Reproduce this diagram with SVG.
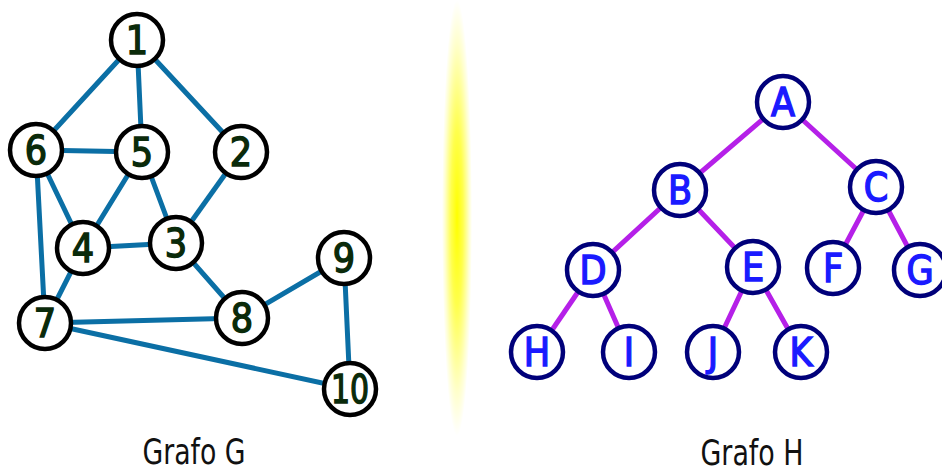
<svg xmlns="http://www.w3.org/2000/svg" width="942" height="473" viewBox="0 0 942 473">
<defs>
<radialGradient id="glow" cx="0.5" cy="0.5" r="0.5">
<stop offset="0" stop-color="#ffff00" stop-opacity="1"/>
<stop offset="0.4" stop-color="#ffff00" stop-opacity="0.7"/>
<stop offset="0.8" stop-color="#ffff00" stop-opacity="0.2"/>
<stop offset="1" stop-color="#ffff00" stop-opacity="0"/>
</radialGradient>
<style>
.eg{stroke:#0b6fa5;stroke-width:5;stroke-linecap:round}
.eh{stroke:#b520e8;stroke-width:5;stroke-linecap:round}
.ng circle{fill:#fff;stroke:#000;stroke-width:4.5}
.ng text{fill:#0a2a0a;stroke:#0a2a0a;stroke-width:1.4;font-family:"DejaVu Sans Condensed","DejaVu Sans",sans-serif;font-size:39px;text-anchor:middle}
.nh circle{fill:#fff;stroke:#00007a;stroke-width:4.5}
.nh text{fill:#1a1aff;stroke:#1a1aff;stroke-width:1.4;font-family:"DejaVu Sans Condensed","DejaVu Sans",sans-serif;font-size:39px;text-anchor:middle}
.lbl{fill:#111;font-family:"DejaVu Sans Condensed","DejaVu Sans",sans-serif;font-size:36px;text-anchor:middle}
</style>
</defs>
<rect width="942" height="473" fill="#fff"/>
<ellipse cx="457" cy="218" rx="15" ry="218" fill="url(#glow)"/>
<g id="connectors">
<line class="eg" x1="137" y1="40" x2="36" y2="150"/>
<line class="eg" x1="137" y1="40" x2="142" y2="152"/>
<line class="eg" x1="137" y1="40" x2="241" y2="152"/>
<line class="eg" x1="36" y1="150" x2="142" y2="152"/>
<line class="eg" x1="36" y1="150" x2="83" y2="248"/>
<line class="eg" x1="36" y1="150" x2="45" y2="323"/>
<line class="eg" x1="142" y1="152" x2="83" y2="248"/>
<line class="eg" x1="142" y1="152" x2="176" y2="243"/>
<line class="eg" x1="241" y1="152" x2="176" y2="243"/>
<line class="eg" x1="83" y1="248" x2="176" y2="243"/>
<line class="eg" x1="83" y1="248" x2="45" y2="323"/>
<line class="eg" x1="176" y1="243" x2="242" y2="318"/>
<line class="eg" x1="45" y1="323" x2="242" y2="318"/>
<line class="eg" x1="242" y1="318" x2="344" y2="258"/>
<line class="eg" x1="344" y1="258" x2="350" y2="389"/>
<line class="eg" x1="45" y1="323" x2="350" y2="389"/>
<line class="eh" x1="783" y1="102" x2="680" y2="190"/>
<line class="eh" x1="783" y1="102" x2="876" y2="187"/>
<line class="eh" x1="680" y1="190" x2="593" y2="270"/>
<line class="eh" x1="680" y1="190" x2="753" y2="267"/>
<line class="eh" x1="876" y1="187" x2="833" y2="268"/>
<line class="eh" x1="876" y1="187" x2="920" y2="270"/>
<line class="eh" x1="593" y1="270" x2="537" y2="352"/>
<line class="eh" x1="593" y1="270" x2="629" y2="352"/>
<line class="eh" x1="753" y1="267" x2="713" y2="352"/>
<line class="eh" x1="753" y1="267" x2="801" y2="352"/>
</g>
<g id="n1" class="ng"><circle cx="137" cy="40" r="26"/><text x="137" y="54">1</text></g>
<g id="n6" class="ng"><circle cx="36" cy="150" r="26"/><text x="36" y="164">6</text></g>
<g id="n5" class="ng"><circle cx="142" cy="152" r="26"/><text x="142" y="166">5</text></g>
<g id="n2" class="ng"><circle cx="241" cy="152" r="26"/><text x="241" y="166">2</text></g>
<g id="n4" class="ng"><circle cx="83" cy="248" r="26"/><text x="83" y="262">4</text></g>
<g id="n3" class="ng"><circle cx="176" cy="243" r="26"/><text x="176" y="257">3</text></g>
<g id="n9" class="ng"><circle cx="344" cy="258" r="26"/><text x="344" y="272">9</text></g>
<g id="n7" class="ng"><circle cx="45" cy="323" r="26"/><text x="45" y="337">7</text></g>
<g id="n8" class="ng"><circle cx="242" cy="318" r="26"/><text x="242" y="332">8</text></g>
<g id="n10" class="ng"><circle cx="350" cy="389" r="26"/><text x="350" y="403" textLength="38" lengthAdjust="spacingAndGlyphs">10</text></g>
<g id="nA" class="nh"><circle cx="783" cy="102" r="26"/><text x="783" y="116">A</text></g>
<g id="nB" class="nh"><circle cx="680" cy="190" r="26"/><text x="680" y="204">B</text></g>
<g id="nC" class="nh"><circle cx="876" cy="187" r="26"/><text x="876" y="201">C</text></g>
<g id="nD" class="nh"><circle cx="593" cy="270" r="26"/><text x="593" y="284">D</text></g>
<g id="nE" class="nh"><circle cx="753" cy="267" r="26"/><text x="753" y="281">E</text></g>
<g id="nF" class="nh"><circle cx="833" cy="268" r="26"/><text x="833" y="282">F</text></g>
<g id="nG" class="nh"><circle cx="920" cy="270" r="26"/><text x="920" y="284">G</text></g>
<g id="nH" class="nh"><circle cx="537" cy="352" r="26"/><text x="537" y="366">H</text></g>
<g id="nI" class="nh"><circle cx="629" cy="352" r="26"/><text x="629" y="366">I</text></g>
<g id="nJ" class="nh"><circle cx="713" cy="352" r="26"/><text x="713" y="366">J</text></g>
<g id="nK" class="nh"><circle cx="801" cy="352" r="26"/><text x="801" y="366">K</text></g>
<text class="lbl" x="194" y="464" textLength="103" lengthAdjust="spacingAndGlyphs">Grafo G</text>
<text class="lbl" x="752" y="465" textLength="103" lengthAdjust="spacingAndGlyphs">Grafo H</text>
</svg>
